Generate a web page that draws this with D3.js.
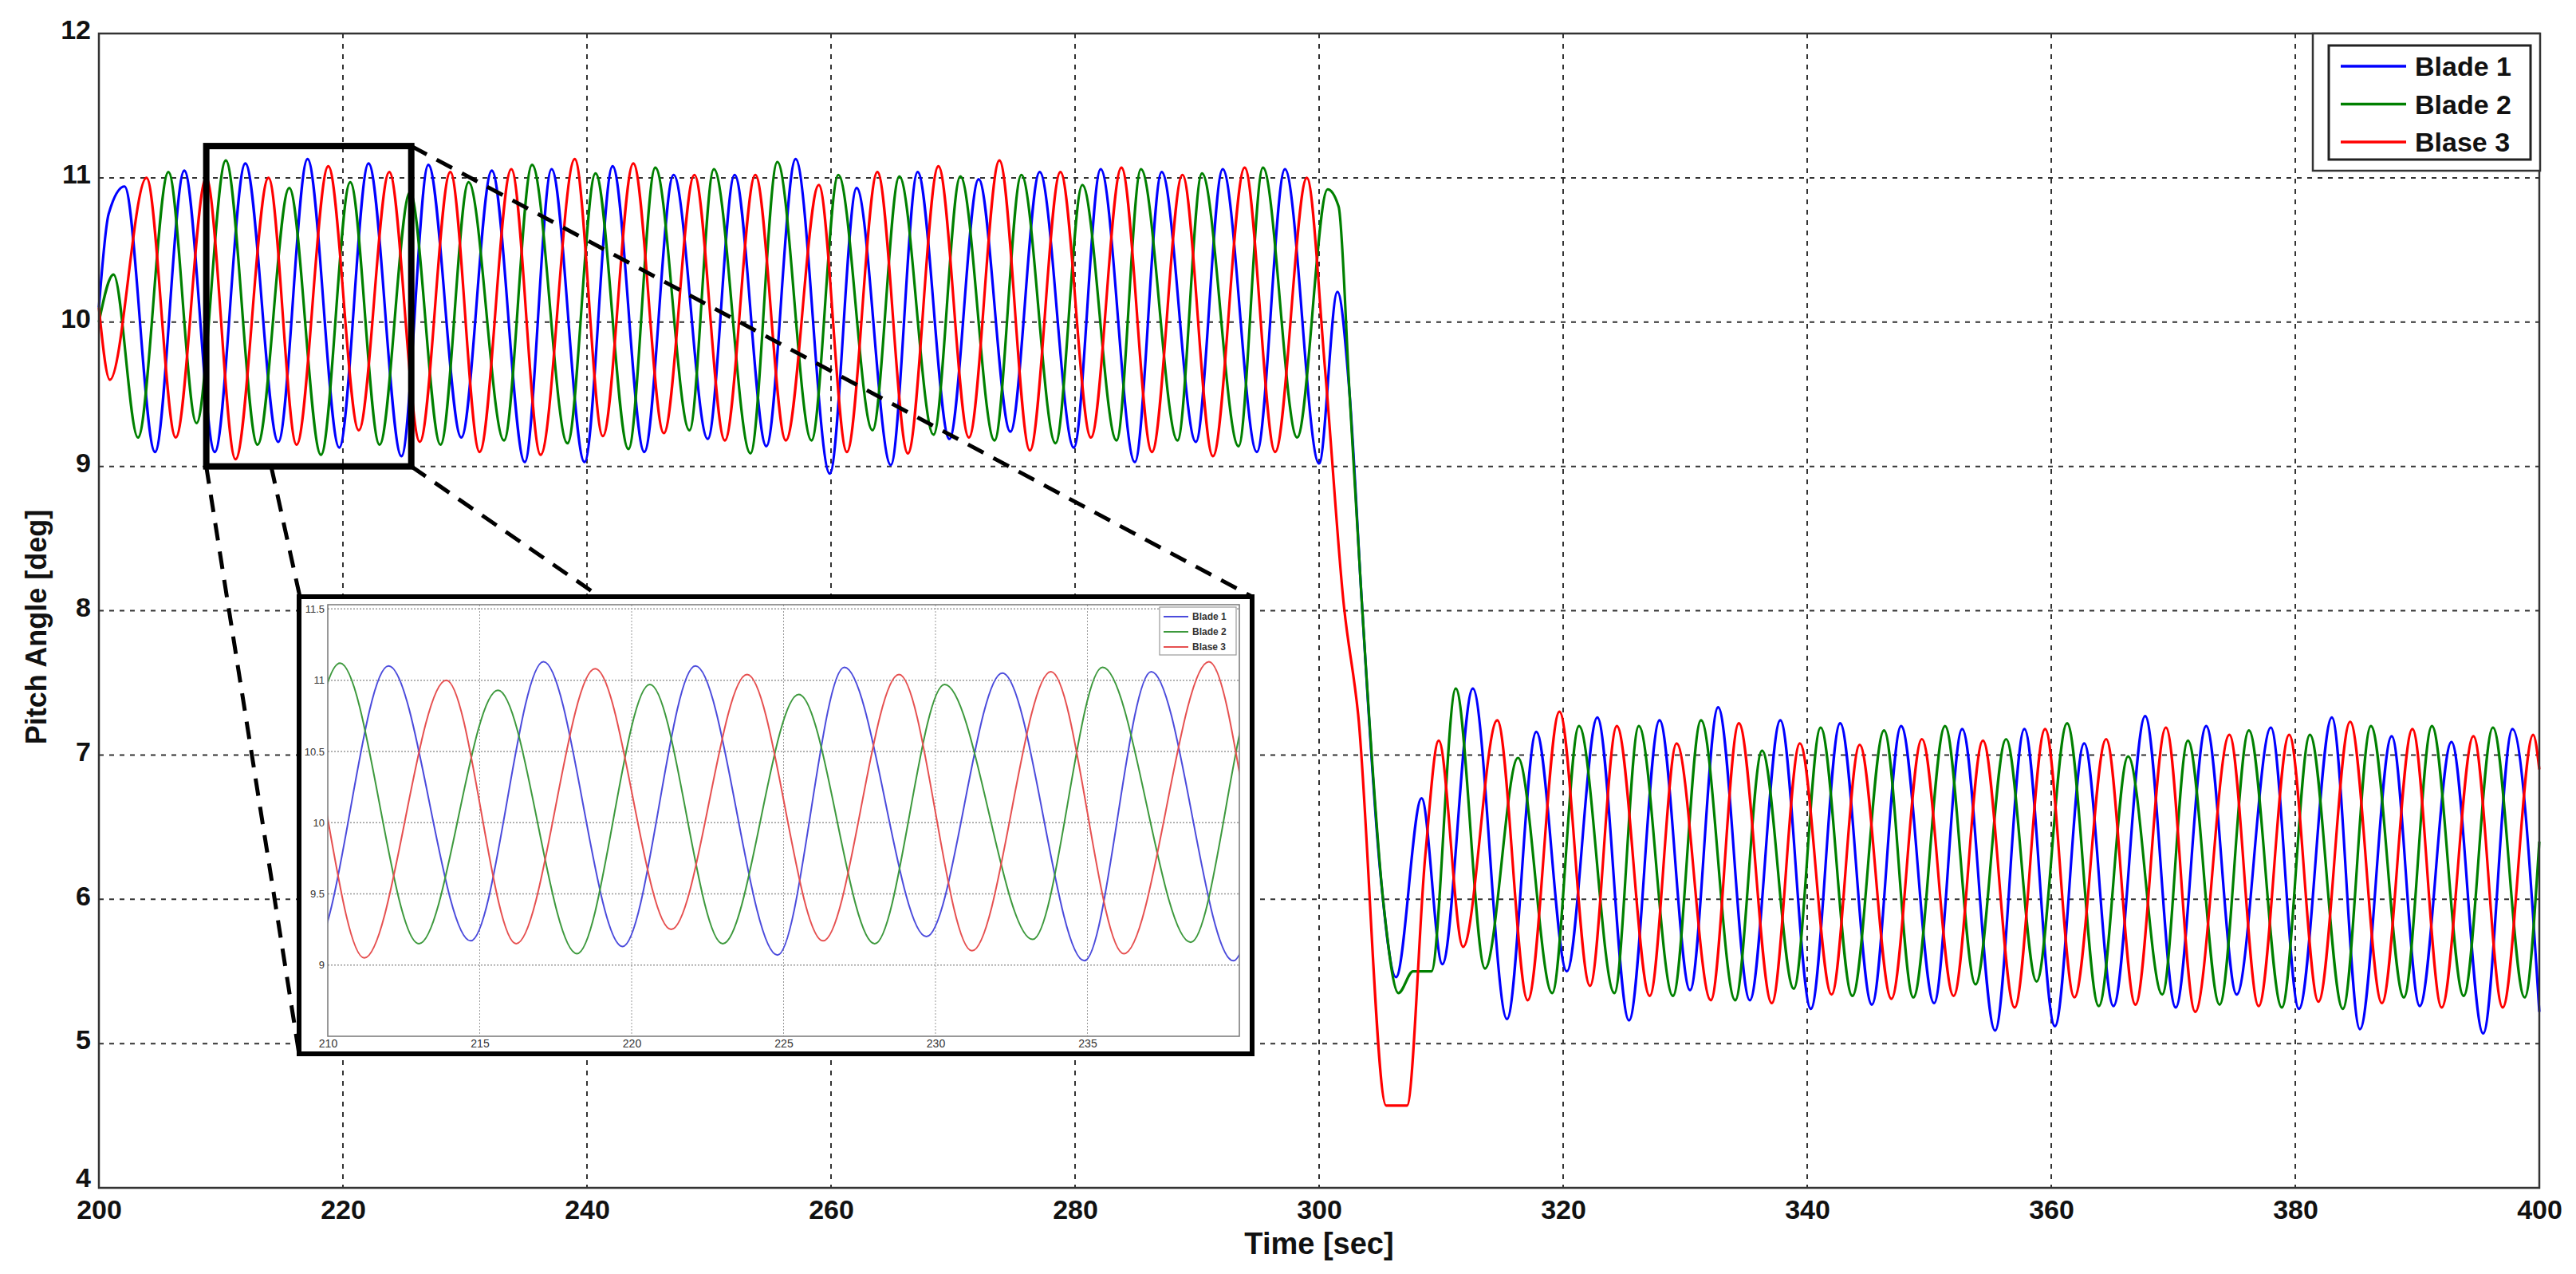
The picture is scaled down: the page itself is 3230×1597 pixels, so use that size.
<!DOCTYPE html>
<html><head><meta charset="utf-8">
<script src="https://cdn.jsdelivr.net/npm/d3@7"></script>
<style>body{margin:0;background:#fff}svg{display:block}</style>
</head><body>
<svg id="c" width="3230" height="1597"></svg>
<script>
const xTicks=[200,220,240,260,280,300,320,340,360,380,400];
const yTicks=[4,5,6,7,8,9,10,11,12];
const insetXTicks=[210,215,220,225,230,235];
const insetYTicks=[9,9.5,10,10.5,11,11.5];
const seriesNames=["Blade 1","Blade 2","Blase 3"];
const blade1=[[200,10.1],[200.8,10.75],[202.1,10.94],[204.6,9.1],[207.0,11.05],[209.5,9.1],[212.0,11.1],[214.7,9.17],[217.1,11.13],[219.7,9.13],[222.1,11.1],[224.8,9.07],[227.0,11.09],[229.7,9.2],[232.2,11.05],[234.9,9.03],[237.1,11.06],[239.8,9.03],[242.1,11.08],[244.7,9.1],[247.1,11.02],[249.9,9.19],[252.1,11.02],[254.7,9.14],[257.1,11.13],[259.9,8.95],[262.1,10.93],[264.9,9.01],[267.1,11.04],[269.7,9.19],[272.1,10.99],[274.7,9.24],[277.1,11.04],[279.9,9.13],[282.1,11.06],[284.9,9.03],[287.1,11.04],[289.9,9.17],[292.1,11.06],[294.9,9.1],[297.2,11.06],[300.0,9.02],[301.5,10.21],[302.5,9.5],[303.5,8.06],[305.0,6.2],[306.3,5.46],[308.4,6.7],[310.1,5.55],[312.6,7.46],[315.4,5.17],[317.8,7.16],[320.3,5.5],[322.8,7.26],[325.4,5.16],[327.9,7.24],[330.4,5.37],[332.7,7.33],[335.3,5.3],[337.8,7.24],[340.3,5.24],[342.7,7.22],[345.3,5.27],[347.7,7.2],[350.4,5.28],[352.7,7.18],[355.4,5.09],[357.8,7.18],[360.3,5.12],[362.7,7.08],[365.1,5.26],[367.7,7.27],[370.2,5.25],[372.7,7.2],[375.2,5.34],[378.0,7.19],[380.3,5.24],[383.0,7.26],[385.3,5.1],[387.9,7.13],[390.2,5.26],[392.8,7.09],[395.4,5.07],[397.8,7.18],[400.0,5.22]];
const blade2=[[200,10.0],[201.2,10.33],[203.2,9.2],[205.7,11.04],[208.0,9.3],[210.4,11.12],[213.0,9.15],[215.6,10.93],[218.2,9.08],[220.6,10.97],[223.0,9.15],[225.5,10.9],[228.0,9.15],[230.3,10.97],[233.2,9.18],[235.5,11.09],[238.4,9.16],[240.7,11.03],[243.4,9.12],[245.6,11.07],[248.4,9.25],[250.4,11.06],[253.4,9.09],[255.6,11.11],[258.4,9.18],[260.6,11.02],[263.4,9.25],[265.6,11.01],[268.4,9.22],[270.6,11.01],[273.4,9.18],[275.6,11.02],[278.4,9.16],[280.6,10.95],[283.4,9.18],[285.4,11.06],[288.4,9.18],[290.4,11.03],[293.4,9.14],[295.4,11.07],[298.2,9.2],[300.7,10.92],[301.6,10.8],[302.5,9.5],[303.5,8.06],[305.3,5.95],[306.5,5.35],[307.7,5.5],[309.2,5.5],[311.2,7.46],[313.6,5.52],[316.3,6.98],[319.1,5.35],[321.3,7.2],[324.2,5.35],[326.2,7.2],[329.0,5.33],[331.3,7.24],[334.1,5.3],[336.3,7.03],[338.9,5.38],[341.1,7.19],[343.7,5.33],[346.3,7.17],[348.7,5.32],[351.3,7.2],[353.8,5.41],[356.3,7.11],[358.8,5.43],[361.3,7.22],[363.9,5.26],[366.3,6.99],[369.1,5.34],[371.2,7.1],[373.8,5.27],[376.2,7.17],[378.9,5.25],[381.2,7.14],[383.9,5.24],[386.2,7.2],[388.9,5.32],[391.2,7.2],[393.8,5.33],[396.2,7.19],[398.8,5.32],[400,6.4]];
const blade3=[[200,10.1],[200.9,9.6],[203.9,11.0],[206.3,9.2],[208.8,11.0],[211.2,9.05],[213.9,11.0],[216.2,9.15],[218.8,11.08],[221.3,9.25],[223.8,11.04],[226.3,9.17],[228.8,11.04],[231.2,9.1],[233.8,11.06],[236.2,9.08],[239.0,11.13],[241.3,9.21],[243.8,11.1],[246.3,9.23],[248.8,11.02],[251.3,9.18],[253.8,11.02],[256.3,9.18],[259.0,10.95],[261.3,9.1],[263.8,11.04],[266.3,9.09],[268.8,11.08],[271.3,9.2],[273.8,11.12],[276.3,9.11],[278.8,11.04],[281.3,9.2],[283.8,11.07],[286.3,9.1],[288.8,11.02],[291.3,9.07],[293.9,11.07],[296.4,9.1],[299.0,11.0],[300.5,9.66],[302.0,8.06],[303.2,7.28],[305.5,4.57],[307.2,4.57],[308.7,6.3],[309.8,7.1],[311.8,5.67],[314.6,7.24],[317.1,5.3],[319.7,7.3],[322.2,5.4],[324.4,7.2],[327.1,5.33],[329.3,7.08],[332.1,5.3],[334.4,7.22],[337.1,5.28],[339.4,7.08],[342.0,5.34],[344.3,7.07],[346.9,5.31],[349.4,7.11],[352.0,5.33],[354.4,7.1],[357.0,5.25],[359.5,7.18],[361.9,5.32],[364.5,7.11],[366.9,5.27],[369.4,7.19],[371.8,5.22],[374.6,7.14],[377.0,5.26],[379.5,7.14],[381.9,5.29],[384.5,7.23],[387.1,5.28],[389.6,7.18],[392.0,5.25],[394.6,7.13],[397.0,5.25],[399.5,7.14],[400,6.9]];
const zoomWindow=[208.8,225.6,9,11.22];

const series=[blade1,blade2,blade3];
const colors=["#0000ff","#008000","#ff0000"];
const insetColors=["#4b4bdc","#3d993d","#e65050"];
const svg=d3.select("#c");
const x=d3.scaleLinear([200,400],[124,3184]);
const y=d3.scaleLinear([4,12],[1489,42]);
const narrow="'Liberation Sans Narrow','Arial Narrow',Arial,sans-serif";

const g=svg.append("g");
g.selectAll(".gx").data(xTicks.slice(1,-1)).join("line").attr("x1",d=>x(d)).attr("x2",d=>x(d)).attr("y1",y(12)).attr("y2",y(4)).attr("stroke","#333").attr("stroke-width",2).attr("stroke-dasharray","6,7");
g.selectAll(".gy").data(yTicks.slice(1,-1)).join("line").attr("y1",d=>y(d)).attr("y2",d=>y(d)).attr("x1",x(200)).attr("x2",x(400)).attr("stroke","#333").attr("stroke-width",2).attr("stroke-dasharray","6,7");

const line=d3.line().x(d=>x(d[0])).y(d=>y(d[1])).curve(d3.curveMonotoneX);
series.forEach((s,i)=>svg.append("path").datum(s).attr("d",line).attr("fill","none").attr("stroke",colors[i]).attr("stroke-width",3.2));

const ax=svg.append("g").attr("transform",`translate(0,${y(4)})`).call(d3.axisBottom(x).tickValues(xTicks).tickSize(0).tickPadding(15).tickFormat(d3.format("d")));
ax.select(".domain").remove();
ax.selectAll("text").attr("font-family",narrow).attr("font-weight","bold").attr("font-size",34).attr("fill","#111");
const ay=svg.append("g").attr("transform",`translate(${x(200)},0)`).call(d3.axisLeft(y).tickValues(yTicks).tickSize(0).tickPadding(10).tickFormat(d3.format("d")));
ay.select(".domain").remove();
ay.selectAll("text").attr("font-family",narrow).attr("font-weight","bold").attr("font-size",34).attr("fill","#111").attr("dy",d=>d===4?"-0.05em":"0.2em");
svg.append("rect").attr("x",x(200)).attr("y",y(12)).attr("width",x(400)-x(200)).attr("height",y(4)-y(12)).attr("fill","none").attr("stroke","#333").attr("stroke-width",2.5);

svg.append("text").attr("x",x(300)).attr("y",1572).attr("text-anchor","middle").attr("font-family","'Liberation Sans',Arial,sans-serif").attr("font-weight","bold").attr("font-size",38).attr("fill","#111").text("Time [sec]");
svg.append("text").attr("transform","translate(58,786) rotate(-90)").attr("text-anchor","middle").attr("font-family","'Liberation Sans',Arial,sans-serif").attr("font-weight","bold").attr("font-size",36).attr("fill","#111").text("Pitch Angle [deg]");

svg.append("rect").attr("x",2900).attr("y",42).attr("width",285).attr("height",172).attr("fill","#fff").attr("stroke","#333").attr("stroke-width",2.5);
svg.append("rect").attr("x",2920).attr("y",57).attr("width",253).attr("height",143).attr("fill","#fff").attr("stroke","#222").attr("stroke-width",3);
seriesNames.forEach((n,i)=>{
  const yy=83+i*47.5;
  svg.append("line").attr("x1",2935).attr("x2",3017).attr("y1",yy).attr("y2",yy).attr("stroke",colors[i]).attr("stroke-width",3.5);
  svg.append("text").attr("x",3028).attr("y",yy+12).attr("font-family","'Liberation Sans',Arial,sans-serif").attr("font-weight","bold").attr("font-size",34).attr("fill","#111").text(n);
});

const dash={stroke:"#000","stroke-width":5,"stroke-dasharray":"22,14"};
const conns=[[x(zoomWindow[0]),y(zoomWindow[2]),375,1321],[340,y(zoomWindow[2]),376,748],[x(zoomWindow[1]),y(zoomWindow[3]),1570,748],[x(zoomWindow[1]),y(zoomWindow[2]),752,748]];
conns.forEach(c=>{const l=svg.append("line").attr("x1",c[0]).attr("y1",c[1]).attr("x2",c[2]).attr("y2",c[3]);Object.entries(dash).forEach(([k,v])=>l.attr(k,v));});
svg.append("rect").attr("x",x(zoomWindow[0])).attr("y",y(zoomWindow[3])).attr("width",x(zoomWindow[1])-x(zoomWindow[0])).attr("height",y(zoomWindow[2])-y(zoomWindow[3])).attr("fill","none").attr("stroke","#000").attr("stroke-width",8);

svg.append("rect").attr("x",375).attr("y",748).attr("width",1195).attr("height",573).attr("fill","#fff").attr("stroke","#000").attr("stroke-width",6);
const xi=d3.scaleLinear([210,240],[411,1554]);
const yi=d3.scaleLinear([8.5,11.53],[1299,758]);
const ig=svg.append("g");
ig.selectAll(".ix").data(insetXTicks.slice(1)).join("line").attr("x1",d=>xi(d)).attr("x2",d=>xi(d)).attr("y1",yi(11.53)).attr("y2",yi(8.5)).attr("stroke","#999").attr("stroke-width",1).attr("stroke-dasharray","2,2");
ig.selectAll(".iy").data(insetYTicks).join("line").attr("y1",d=>yi(d)).attr("y2",d=>yi(d)).attr("x1",xi(210)).attr("x2",xi(240)).attr("stroke","#999").attr("stroke-width",1.5).attr("stroke-dasharray","2,2");
svg.append("clipPath").attr("id","ic").append("rect").attr("x",xi(210)).attr("y",yi(11.53)).attr("width",xi(240)-xi(210)).attr("height",yi(8.5)-yi(11.53));
const iline=d3.line().x(d=>xi(d[0])).y(d=>yi(d[1])).curve(d3.curveMonotoneX);
series.forEach((s,i)=>svg.append("path").datum(s.filter(d=>d[0]>=205&&d[0]<=245)).attr("d",iline).attr("clip-path","url(#ic)").attr("fill","none").attr("stroke",insetColors[i]).attr("stroke-width",2));
svg.append("rect").attr("x",xi(210)).attr("y",yi(11.53)).attr("width",xi(240)-xi(210)).attr("height",yi(8.5)-yi(11.53)).attr("fill","none").attr("stroke","#777").attr("stroke-width",1.5);
const iax=svg.append("g").attr("transform",`translate(0,${yi(8.5)})`).call(d3.axisBottom(xi).tickValues(insetXTicks).tickSize(0).tickPadding(4).tickFormat(d3.format("d")));
iax.select(".domain").remove();
iax.selectAll("text").attr("font-family",narrow).attr("font-size",14).attr("fill","#333");
const iay=svg.append("g").attr("transform",`translate(${xi(210)},0)`).call(d3.axisLeft(yi).tickValues(insetYTicks).tickSize(0).tickPadding(4).tickFormat(d=>d3.format("")(d)));
iay.select(".domain").remove();
iay.selectAll("text").attr("font-family",narrow).attr("font-size",13).attr("fill","#333");
svg.append("rect").attr("x",1454).attr("y",761).attr("width",96).attr("height",60).attr("fill","#fff").attr("stroke","#999").attr("stroke-width",1.2);
seriesNames.forEach((n,i)=>{
  const yy=773+i*19;
  svg.append("line").attr("x1",1459).attr("x2",1490).attr("y1",yy).attr("y2",yy).attr("stroke",insetColors[i]).attr("stroke-width",2);
  svg.append("text").attr("x",1495).attr("y",yy+4).attr("font-family",narrow).attr("font-weight","bold").attr("font-size",12).attr("fill","#333").text(n);
});
</script>
</body></html>
